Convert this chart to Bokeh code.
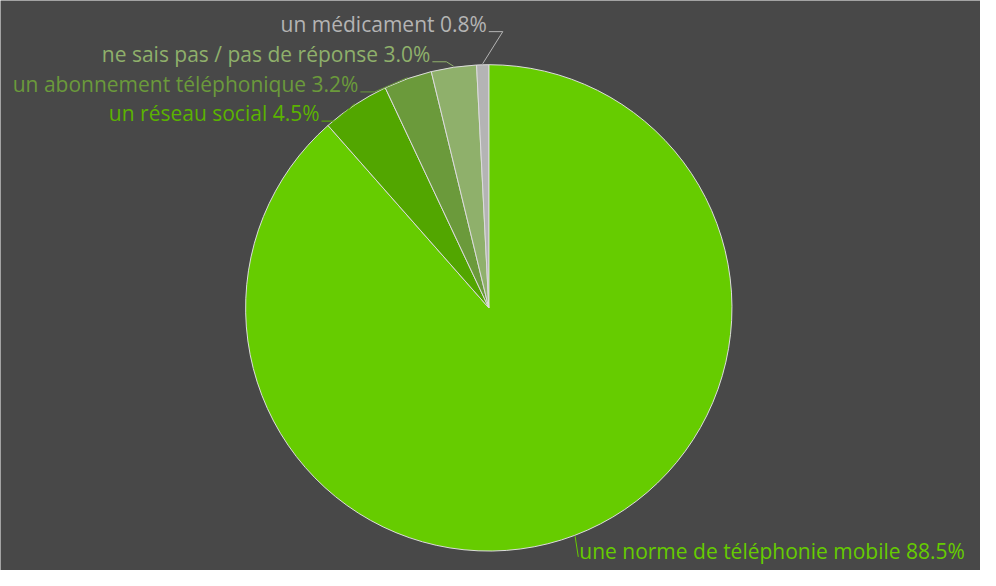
import math
from bokeh.plotting import figure
from bokeh.models import Range1d, ColumnDataSource
from bokeh.core.properties import value
from bokeh.embed import file_html
from bokeh.resources import INLINE

# data (clockwise from 12 o'clock)
labels = ["une norme de téléphonie mobile", "un réseau social",
          "un abonnement téléphonique", "ne sais pas / pas de réponse",
          "un médicament"]
shares = [88.5, 4.5, 3.2, 3.0, 0.8]

# styles
colors = ["#66cc00", "#52a600", "#6b9a3b", "#8fb06b", "#b4b4b4"]
label_colors = ["#66cc00", "#5bb300", "#6b9a3b", "#8fb06b", "#b4b4b4"]
BG = "#484848"
W, H = 980, 570
FONT = "Open Sans"
S = 570 / 586  # scale from reference pixels

def X(xr):
    return xr * S

def Y(yr):
    return H - yr * S

cx, cy, R = X(502), Y(316), 250 * S

p = figure(width=W, height=H, output_backend="svg", toolbar_location=None,
           x_range=Range1d(0, W), y_range=Range1d(0, H),
           min_border=0, background_fill_color=BG, border_fill_color=BG)
p.axis.visible = False
p.grid.visible = False
p.outline_line_color = None

total = sum(shares)
starts, ends, mids = [], [], []
acc = 0.0
for s in shares:
    a0 = acc / total * 2 * math.pi
    acc += s
    a1 = acc / total * 2 * math.pi
    starts.append(math.pi / 2 - a0)
    ends.append(math.pi / 2 - a1)
    mids.append(math.pi / 2 - (a0 + a1) / 2)

src = ColumnDataSource(dict(x=[cx] * len(shares), y=[cy] * len(shares),
                            start=starts, end=ends, color=colors))
p.wedge(x="x", y="y", radius=R, start_angle="start", end_angle="end",
        direction="clock", fill_color="color", line_color="#dcdcdc",
        line_width=1, source=src)

# label layout (reference px): anchor x, y center, alignment
layout = [(595, 566, "left"), (328, 116, "right"), (368, 86, "right"),
          (442, 55, "right"), (500, 24, "right")]

xs_l, ys_l = [], []
for i, (lx, ly, al) in enumerate(layout):
    ex = cx + (R + 1) * math.cos(mids[i])
    ey = cy + (R + 1) * math.sin(mids[i])
    if al == "right":
        bx, by = X(lx + 2), Y(ly + 8)
        xs_l.append([bx, bx + 14, ex]); ys_l.append([by, by, ey])
    else:
        xs_l.append([ex, X(lx - 1)]); ys_l.append([ey, Y(ly + 6)])
    p.text(x=[X(lx)], y=[Y(ly)], text=[f"{labels[i]} {shares[i]:.1f}%"],
           text_font=value(FONT), text_font_size="21px",
           text_color=label_colors[i], text_align=al, text_baseline="middle")

p.multi_line(xs=xs_l, ys=ys_l, line_color=label_colors, line_width=1)

open("out.html", "w").write(file_html(p, INLINE))
